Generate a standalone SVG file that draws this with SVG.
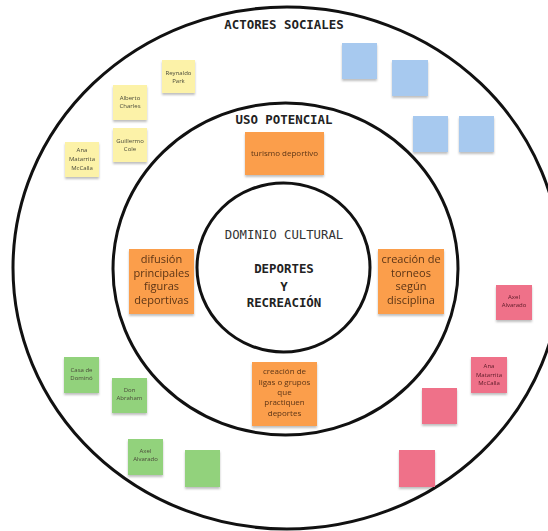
<svg xmlns="http://www.w3.org/2000/svg" width="548" height="531" viewBox="0 0 548 531">
<defs>
<filter id="sh" x="-20%" y="-20%" width="140%" height="150%">
<feDropShadow dx="0" dy="2" stdDeviation="1.2" flood-color="#000" flood-opacity="0.25"/>
</filter>
<style>
.ring{fill:none;stroke:#111;stroke-width:3}
.title{font-family:"DejaVu Sans Mono","Liberation Mono",monospace;font-weight:bold;font-size:12.4px;fill:#222;text-anchor:middle}
.dom{font-family:"DejaVu Sans Mono","Liberation Mono",monospace;font-size:12.3px;fill:#333;text-anchor:middle}
.note{filter:url(#sh)}
.or{fill:#FB9E4B}
.ye{fill:#FCF2A8}
.bl{fill:#A7C9EF}
.gr{fill:#92D27C}
.pk{fill:#EF7189}
.ot{font-family:"Open Sans","Liberation Sans",sans-serif;fill:#5b3416;text-anchor:middle}
.st{font-family:"Open Sans","Liberation Sans",sans-serif;font-size:6px;fill:#4a4a3a;text-anchor:middle}
.pt{font-family:"Open Sans","Liberation Sans",sans-serif;font-size:6px;fill:#5a1a26;text-anchor:middle}
</style>
</defs>
<rect width="548" height="531" fill="#fff"/>
<ellipse class="ring" cx="287" cy="268" rx="274" ry="261"/>
<ellipse class="ring" cx="285.5" cy="269" rx="172.5" ry="166"/>
<ellipse class="ring" cx="283.5" cy="267.5" rx="86.5" ry="84.5"/>
<text class="title" x="284" y="29">ACTORES SOCIALES</text>
<text class="title" x="284" y="124">USO POTENCIAL</text>
<g id="dominio">
<text class="dom" x="284" y="239">DOMINIO CULTURAL</text>
<text class="title" x="284" y="273">DEPORTES</text>
<text class="title" x="284" y="291">Y</text>
<text class="title" x="284" y="307">RECREACIÓN</text>
</g>
<g id="turismo" class="note"><rect class="or" x="245" y="132" width="79" height="43"/><text class="ot" font-size="8" x="284.5" y="156">turismo deportivo</text></g>
<g id="difusion" class="note"><rect class="or" x="129" y="249" width="65" height="65"/><text class="ot" font-size="11" x="161.5"><tspan x="161.5" y="263">difusión</tspan><tspan x="161.5" y="276.5">principales</tspan><tspan x="161.5" y="290">figuras</tspan><tspan x="161.5" y="303.5">deportivas</tspan></text></g>
<g id="torneos" class="note"><rect class="or" x="378" y="249" width="66" height="65"/><text class="ot" font-size="11" x="411"><tspan x="411" y="263">creación de</tspan><tspan x="411" y="276.5">torneos</tspan><tspan x="411" y="290">según</tspan><tspan x="411" y="303.5">disciplina</tspan></text></g>
<g id="ligas" class="note"><rect class="or" x="252" y="362" width="65" height="64"/><text class="ot" font-size="8" x="284.5"><tspan x="284.5" y="374">creación de</tspan><tspan x="284.5" y="384.5">ligas o grupos</tspan><tspan x="284.5" y="395">que</tspan><tspan x="284.5" y="405">practiquen</tspan><tspan x="284.5" y="415.5">deportes</tspan></text></g>
<g id="y-reynaldo" class="note"><rect class="ye" x="162" y="60" width="33" height="33"/><text class="st"><tspan x="178.5" y="75">Reynaldo</tspan><tspan x="178.5" y="83">Park</tspan></text></g>
<g id="y-alberto" class="note"><rect class="ye" x="113" y="85" width="34" height="35"/><text class="st"><tspan x="130" y="100">Alberto</tspan><tspan x="130" y="108">Charles</tspan></text></g>
<g id="y-guillermo" class="note"><rect class="ye" x="113" y="128" width="34" height="34"/><text class="st"><tspan x="130" y="143">Guillermo</tspan><tspan x="130" y="151">Cole</tspan></text></g>
<g id="y-ana" class="note"><rect class="ye" x="65" y="142" width="34" height="35"/><text class="st"><tspan x="82" y="152">Ana</tspan><tspan x="82" y="161">Matarrita</tspan><tspan x="82" y="170">McCalla</tspan></text></g>
<g id="b1" class="note"><rect class="bl" x="342" y="43" width="35" height="36"/></g>
<g id="b2" class="note"><rect class="bl" x="392" y="60" width="36" height="36"/></g>
<g id="b3" class="note"><rect class="bl" x="413" y="116" width="35" height="36"/></g>
<g id="b4" class="note"><rect class="bl" x="459" y="116" width="35" height="36"/></g>
<g id="g-casa" class="note"><rect class="gr" x="64" y="357" width="35" height="36"/><text class="st"><tspan x="81.5" y="372">Casa de</tspan><tspan x="81.5" y="380">Dominó</tspan></text></g>
<g id="g-don" class="note"><rect class="gr" x="112" y="378" width="35" height="35"/><text class="st"><tspan x="129.5" y="392">Don</tspan><tspan x="129.5" y="400">Abraham</tspan></text></g>
<g id="g-axel" class="note"><rect class="gr" x="128" y="439" width="35" height="36"/><text class="st"><tspan x="145.5" y="453">Axel</tspan><tspan x="145.5" y="461">Alvarado</tspan></text></g>
<g id="g4" class="note"><rect class="gr" x="185" y="450" width="35" height="37"/></g>
<g id="p-axel" class="note"><rect class="pk" x="496" y="285" width="36" height="35"/><text class="pt"><tspan x="514" y="299">Axel</tspan><tspan x="514" y="307">Alvarado</tspan></text></g>
<g id="p-ana" class="note"><rect class="pk" x="471" y="357" width="36" height="36"/><text class="pt"><tspan x="489" y="368">Ana</tspan><tspan x="489" y="376.5">Matarrita</tspan><tspan x="489" y="385">McCalla</tspan></text></g>
<g id="p3" class="note"><rect class="pk" x="422" y="388" width="35" height="36"/></g>
<g id="p4" class="note"><rect class="pk" x="399" y="450" width="36" height="37"/></g>
</svg>
